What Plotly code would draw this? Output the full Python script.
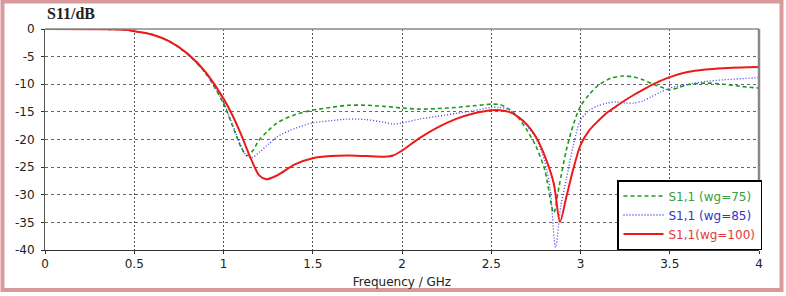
import plotly.graph_objects as go

# ---- data ----
freq_red = [0, 0.3, 0.45, 0.5, 0.6, 0.7, 0.8, 0.9, 1.0, 1.05, 1.1, 1.15, 1.2, 1.24, 1.3, 1.4, 1.5, 1.6, 1.7,
            1.8, 1.9, 1.95, 2.0, 2.1, 2.2, 2.3, 2.4, 2.5, 2.55, 2.6, 2.65, 2.7, 2.75, 2.8, 2.85, 2.885, 2.92,
            2.96, 3.0, 3.05, 3.1, 3.15, 3.2, 3.25, 3.3, 3.35, 3.4, 3.5, 3.6, 3.7, 3.8, 3.9, 4.0]
s11_red = [0, -0.05, -0.15, -0.4, -1.0, -2.3, -4.5, -7.8, -12.6, -15.6, -19.2, -23.2, -26.5, -27.2, -26.5,
           -24.5, -23.4, -23.0, -22.9, -23.0, -23.1, -22.9, -22.0, -19.7, -17.8, -16.3, -15.3, -14.7, -14.7,
           -15.0, -15.9, -17.3, -19.5, -23.0, -27.9, -34.9, -30.5, -25.3, -21.0, -18.3, -16.6, -15.1, -14.0,
           -12.9, -11.9, -11.0, -10.1, -8.7, -7.8, -7.35, -7.1, -6.95, -6.9]

freq_green = [0, 0.3, 0.45, 0.5, 0.6, 0.7, 0.8, 0.9, 1.0, 1.05, 1.1, 1.13, 1.16, 1.2, 1.25, 1.3, 1.4, 1.5,
              1.6, 1.7, 1.8, 1.9, 2.0, 2.1, 2.2, 2.3, 2.4, 2.5, 2.55, 2.6, 2.65, 2.7, 2.75, 2.8, 2.85, 2.88,
              2.92, 2.96, 3.0, 3.05, 3.1, 3.17, 3.24, 3.3, 3.35, 3.4, 3.45, 3.5, 3.55, 3.6, 3.7, 3.8, 3.9, 4.0]
s11_green = [0, -0.05, -0.15, -0.4, -1.0, -2.3, -4.6, -8.0, -13.5, -17.5, -21.5, -22.9, -22.2, -20.1, -18.4,
             -17.0, -15.5, -14.7, -14.2, -13.8, -13.8, -14.0, -14.3, -14.5, -14.4, -14.2, -13.9, -13.6, -13.7,
             -14.5, -16.0, -18.3, -21.2, -25.5, -33.3, -28.5, -22.0, -17.3, -14.0, -11.8, -10.2, -8.9, -8.5,
             -8.7, -9.2, -9.9, -10.5, -11.0, -10.6, -10.1, -9.8, -10.0, -10.4, -10.7]

freq_blue = [0, 0.3, 0.45, 0.5, 0.6, 0.7, 0.8, 0.9, 1.0, 1.05, 1.1, 1.13, 1.16, 1.2, 1.25, 1.3, 1.4, 1.5,
             1.6, 1.7, 1.8, 1.9, 1.95, 2.0, 2.1, 2.2, 2.3, 2.4, 2.5, 2.55, 2.6, 2.65, 2.7, 2.75, 2.8, 2.83,
             2.86, 2.89, 2.92, 2.96, 3.0, 3.05, 3.1, 3.15, 3.2, 3.25, 3.3, 3.35, 3.4, 3.45, 3.5, 3.6, 3.7,
             3.8, 3.9, 4.0]
s11_blue = [0, -0.05, -0.15, -0.4, -1.0, -2.3, -4.6, -8.0, -13.3, -17.3, -21.3, -23.0, -23.3, -22.3, -20.9,
            -19.5, -18.0, -17.0, -16.6, -16.3, -16.4, -16.9, -17.2, -17.0, -16.3, -15.8, -15.3, -14.8, -14.2,
            -14.2, -14.6, -15.8, -17.5, -19.8, -24.0, -29.0, -39.5, -32.0, -27.3, -21.0, -16.5, -14.7, -13.9,
            -13.4, -13.2, -13.4, -13.4, -13.0, -12.2, -11.4, -10.7, -10.0, -9.5, -9.2, -9.0, -8.8]

x_ticks = [0, 0.5, 1, 1.5, 2, 2.5, 3, 3.5, 4]
x_tick_labels = ["0", "0.5", "1", "1.5", "2", "2.5", "3", "3.5", "4"]
y_ticks = [0, -5, -10, -15, -20, -25, -30, -35, -40]
y_tick_labels = ["0", "-5", "-10", "-15", "-20", "-25", "-30", "-35", "-40"]

names = ["S1,1 (wg=75)", "S1,1 (wg=85)", "S1,1(wg=100)"]

# ---- figure ----
W, H = 786, 296
ml, mr, mt, mb = 45, 27, 29, 46
pw, ph = W - ml - mr, H - mt - mb

def px_x(px):
    return (px - ml) / pw

def px_y(py):
    return (H - mb - py) / ph

fig = go.Figure()
fig.add_trace(go.Scatter(x=freq_green, y=s11_green, mode="lines",
                         name="<span style='color:#3a9e3a'>%s</span>" % names[0],
                         line=dict(color="#1f9a1f", width=1.6, dash="4px,3px", shape="spline", smoothing=0.8)))
fig.add_trace(go.Scatter(x=freq_blue, y=s11_blue, mode="lines",
                         name="<span style='color:#3434c8'>%s</span>" % names[1],
                         line=dict(color="#3a3aee", width=1.3, dash="1px,2px", shape="spline", smoothing=0.8)))
fig.add_trace(go.Scatter(x=freq_red, y=s11_red, mode="lines",
                         name="<span style='color:#e03a3a'>%s</span>" % names[2],
                         line=dict(color="#ee1a1a", width=2, shape="spline", smoothing=0.8)))

fig.update_layout(
    width=W, height=H,
    margin=dict(l=ml, r=mr, t=mt, b=mb, pad=0, autoexpand=False),
    paper_bgcolor="white", plot_bgcolor="white",
    font=dict(family="DejaVu Sans", size=11, color="#222"),
    showlegend=True,
    legend=dict(x=px_x(762), y=0, xanchor="right", yanchor="bottom",
                bgcolor="white", bordercolor="black", borderwidth=1.5,
                font=dict(family="DejaVu Sans", size=12),
                tracegroupgap=0, itemwidth=40),
    xaxis=dict(range=[0, 4], tickvals=x_ticks, ticktext=x_tick_labels, automargin=False,
               showgrid=True, gridcolor="#555", griddash="2px,2px", gridwidth=1,
               showline=True, linecolor="#333", linewidth=1, mirror=False,
               ticks="outside", ticklen=3, tickcolor="#333",
               zeroline=False, tickfont=dict(size=12),
               title=dict(text="Frequency / GHz", font=dict(size=12), standoff=7)),
    yaxis=dict(range=[-40, 0], tickvals=y_ticks, ticktext=y_tick_labels, automargin=False,
               showgrid=True, gridcolor="#666", griddash="3px,3px", gridwidth=1,
               showline=True, linecolor="#555", linewidth=1,
               ticks="outside", ticklen=3, tickcolor="#333", ticklabelstandoff=4,
               zeroline=False, tickfont=dict(size=12)),
    shapes=[
        # top and right frame of the plot area
        dict(type="line", xref="paper", yref="paper", x0=0, x1=1, y0=1, y1=1,
             line=dict(color="#888", width=1.5)),
        dict(type="line", xref="paper", yref="paper", x0=1, x1=1, y0=0, y1=1,
             line=dict(color="#888", width=2.5)),
        # pink outer border
        dict(type="rect", xref="paper", yref="paper",
             x0=px_x(2.5), x1=px_x(781.5), y0=px_y(290), y1=px_y(1.5),
             line=dict(color="#d99a9b", width=4)),
    ],
    annotations=[
        dict(text="<b>S11/dB</b>", xref="paper", yref="paper", x=0, y=px_y(24), xanchor="left",
             yanchor="bottom", showarrow=False,
             font=dict(family="Liberation Serif", size=16, color="#222")),
    ],
)

fig.write_html("out.html", config={"displayModeBar": False},
               post_script="document.body.style.margin='0px';document.body.style.overflow='hidden';")
